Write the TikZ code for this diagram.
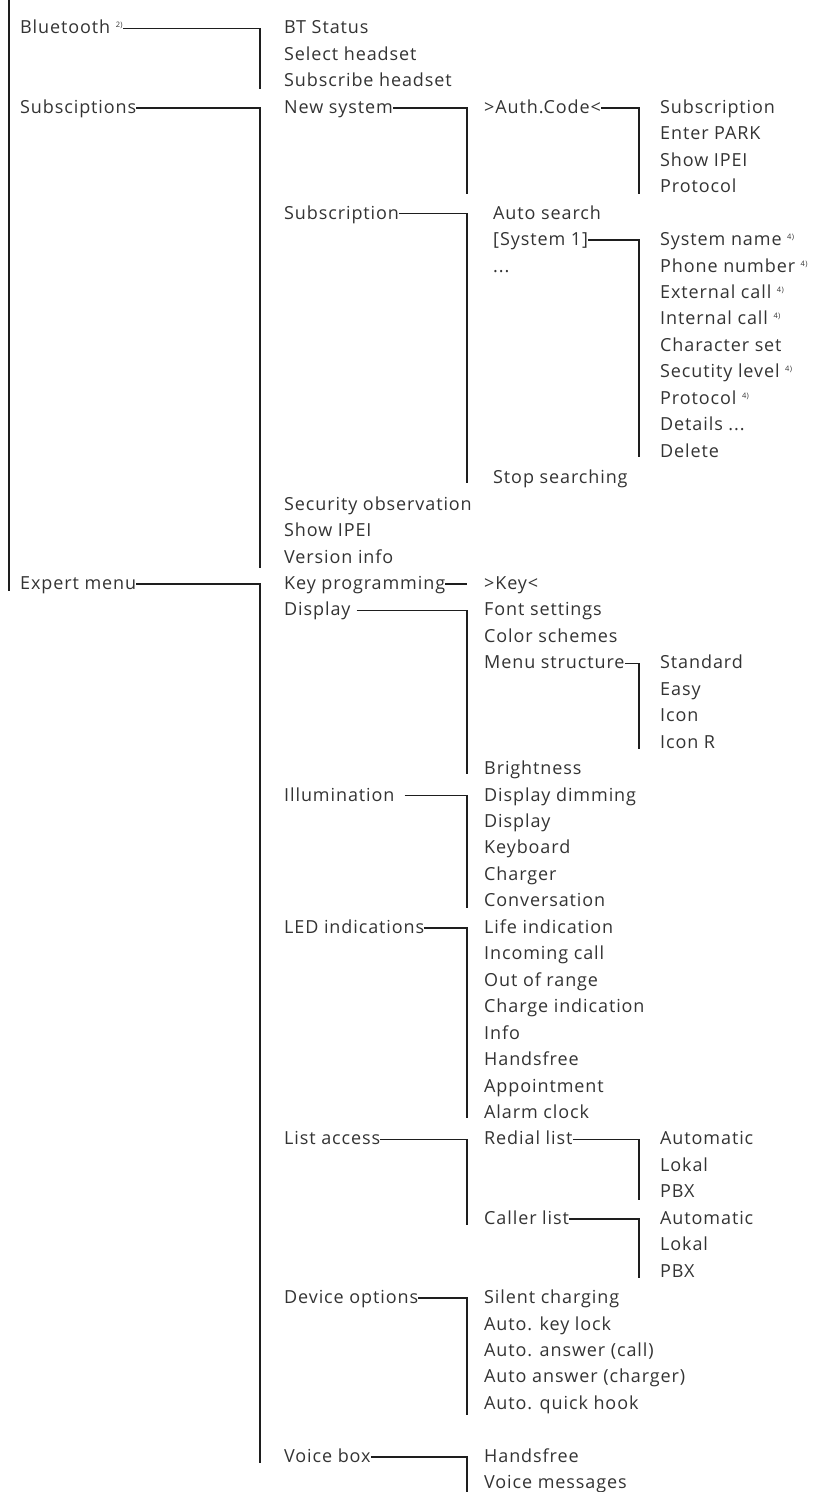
\documentclass[tikz,border=0pt]{standalone}
\usepackage{fontspec}
\setmainfont{Open Sans}[Ligatures=NoCommon, LetterSpace=5]
\usepackage{xcolor}
\usepackage{tikz}

\definecolor{menutext}{HTML}{333333}
\definecolor{menuline}{HTML}{1E1E1E}
\newcommand{\menunote}[1]{\raisebox{6pt}{\fontsize{7.5}{8}\selectfont #1)}}

\tikzset{
  item/.style={anchor=west, inner sep=0pt, text height=14pt, text depth=3pt,
    text=menutext, font=\fontsize{18}{22}\selectfont},
  link/.style={draw=menuline, line width=1.5pt}
}

\begin{document}
\begin{tikzpicture}[x=1pt, y=-26.45pt]
            \useasboundingbox (0,-1.0775) rectangle (814,55.33);
            % first level
            \node[item] (bt) at (20,0) {Bluetooth \menunote{2}};
            \node[item] (subs) at (20,3) {Subsciptions};
            \node[item] (expert) at (20,21) {Expert menu};
            % second level
            \node[item] (btstat) at (284,0) {BT Status};
            \node[item] (selhs) at (284,1) {Select headset};
            \node[item] (subhs) at (284,2) {Subscribe headset};
            \node[item] (newsys) at (284,3) {New system};
            \node[item] (subscr) at (284,7) {Subscription};
            \node[item] (secobs) at (284,18) {Security observation};
            \node[item] (ipei) at (284,19) {Show IPEI};
            \node[item] (version) at (284,20) {Version info};
            \node[item] (keyprog) at (284,21) {Key programming};
            \node[item] (display) at (284,22) {Display};
            \node[item] (illum) at (284,29) {Illumination};
            \node[item] (led) at (284,34) {LED indications};
            \node[item] (listacc) at (284,42) {List access};
            \node[item] (devopt) at (284,48) {Device options};
            \node[item] (voicebox) at (284,54) {Voice box};
            % third level
            \node[item] (auth) at (484,3) {>Auth.Code<};
            \node[item] (autosrch) at (493,7) {Auto search};
            \node[item] (sysone) at (493,8) {[System 1]};
            \node[item] (sysdots) at (493,9) {...};
            \node[item] (stopsrch) at (493,17) {Stop searching};
            \node[item] (key) at (484,21) {>Key<};
            \node[item] (fontset) at (484,22) {Font settings};
            \node[item] (colsch) at (484,23) {Color schemes};
            \node[item] (menustr) at (484,24) {Menu structure};
            \node[item] (bright) at (484,28) {Brightness};
            \node[item] (dimming) at (484,29) {Display dimming};
            \node[item] (illdisp) at (484,30) {Display};
            \node[item] (keyb) at (484,31) {Keyboard};
            \node[item] (charger) at (484,32) {Charger};
            \node[item] (conv) at (484,33) {Conversation};
            \node[item] (life) at (484,34) {Life indication};
            \node[item] (incall) at (484,35) {Incoming call};
            \node[item] (outrange) at (484,36) {Out of range};
            \node[item] (chargeind) at (484,37) {Charge indication};
            \node[item] (info) at (484,38) {Info};
            \node[item] (ledhf) at (484,39) {Handsfree};
            \node[item] (appoint) at (484,40) {Appointment};
            \node[item] (alarm) at (484,41) {Alarm clock};
            \node[item] (redial) at (484,42) {Redial list};
            \node[item] (caller) at (484,45) {Caller list};
            \node[item] (silent) at (484,48) {Silent charging};
            \node[item] (keylock) at (484,49) {Auto. key lock};
            \node[item] (anscall) at (484,50) {Auto. answer (call)};
            \node[item] (anschg) at (484,51) {Auto answer (charger)};
            \node[item] (hook) at (484,52) {Auto. quick hook};
            \node[item] (vbhf) at (484,54) {Handsfree};
            \node[item] (vbmsg) at (484,55) {Voice messages};
            % fourth level
            \node[item] (authsub) at (660,3) {Subscription};
            \node[item] (park) at (660,4) {Enter PARK};
            \node[item] (authipei) at (660,5) {Show IPEI};
            \node[item] (authprot) at (660,6) {Protocol};
            \node[item] (sysname) at (660,8) {System name \menunote{4}};
            \node[item] (phone) at (660,9) {Phone number \menunote{4}};
            \node[item] (extcall) at (660,10) {External call \menunote{4}};
            \node[item] (intcall) at (660,11) {Internal call \menunote{4}};
            \node[item] (charset) at (660,12) {Character set};
            \node[item] (seclevel) at (660,13) {Secutity level \menunote{4}};
            \node[item] (sysprot) at (660,14) {Protocol \menunote{4}};
            \node[item] (details) at (660,15) {Details ...};
            \node[item] (delete) at (660,16) {Delete};
            \node[item] (standard) at (660,24) {Standard};
            \node[item] (easy) at (660,25) {Easy};
            \node[item] (icon) at (660,26) {Icon};
            \node[item] (iconr) at (660,27) {Icon R};
            \node[item] (rauto) at (660,42) {Automatic};
            \node[item] (rlokal) at (660,43) {Lokal};
            \node[item] (rpbx) at (660,44) {PBX};
            \node[item] (cauto) at (660,45) {Automatic};
            \node[item] (clokal) at (660,46) {Lokal};
            \node[item] (cpbx) at (660,47) {PBX};
            % ends of the connectors
            \coordinate (root) at (9,-1.0775);
            \coordinate (rootend) at (9,21.25);
            \coordinate (btend) at (260,2.3);
            \coordinate (subsend) at (260,20.4);
            \coordinate (expertend) at (260,54.25);
            \coordinate (newsysend) at (467,6.25);
            \coordinate (subscrend) at (467,17.2);
            \coordinate (keyprogend) at (467,21);
            \coordinate (displayend) at (467,28.2);
            \coordinate (illumend) at (467,33.25);
            \coordinate (ledend) at (467,41.2);
            \coordinate (listaccend) at (467,45.25);
            \coordinate (devoptend) at (467,52.4);
            \coordinate (voiceboxend) at (467,55.4);
            \coordinate (authend) at (639,6.25);
            \coordinate (sysoneend) at (639,16.2);
            \coordinate (menustrend) at (639,27.25);
            \coordinate (redialend) at (639,44.3);
            \coordinate (callerend) at (639,47.25);
            % connectors
            \draw[link] (root) -- (rootend);
            \draw[link] (bt.east) -| (btend);
            \draw[link] (subs.east) -| (subsend);
            \draw[link] (expert.east) -| (expertend);
            \draw[link] (newsys.east) -| (newsysend);
            \draw[link] (subscr.east) -| (subscrend);
            \draw[link] (keyprog.east) -- (keyprogend);
            \draw[link] ([xshift=6pt]display.east) -| (displayend);
            \draw[link] ([xshift=10pt]illum.east) -| (illumend);
            \draw[link] (led.east) -| (ledend);
            \draw[link] (listacc.east) -| (listaccend);
            \draw[link] (devopt.east) -| (devoptend);
            \draw[link] (voicebox.east) -| (voiceboxend);
            \draw[link] (auth.east) -| (authend);
            \draw[link] (sysone.east) -| (sysoneend);
            \draw[link] (menustr.east) -| (menustrend);
            \draw[link] (redial.east) -| (redialend);
            \draw[link] (caller.east) -| (callerend);
        \end{tikzpicture}
\end{document}
